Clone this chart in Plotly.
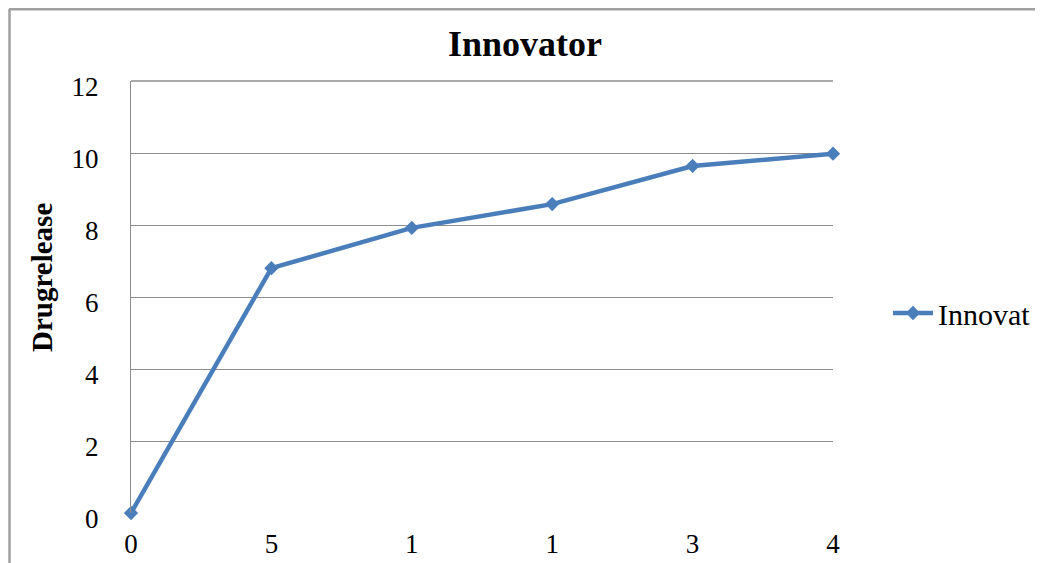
import plotly.graph_objects as go

x_labels = ["0", "5", "1", "1", "3", "4"]
x_pos = [0, 1, 2, 3, 4, 5]
drug_release = [0, 6.8, 7.92, 8.58, 9.64, 9.98]
y_ticks = [0, 2, 4, 6, 8, 10, 12]

blue = "#4A7EBB"
grid = "#8C8C8C"
serif = "Liberation Serif, Times New Roman, serif"

# page body has an 8px margin; work in reference pixels and shift
O = 8
W, H = 1043 - O, 563 - O
L, R, T, B = 131 - O, 833 - O, 81 - O, 513 - O
pw, ph = R - L, B - T

def px_x(p):
    return (p - O - L) / pw

def px_y(p):
    return (B - (p - O)) / ph

fig = go.Figure()
fig.add_trace(go.Scatter(
    x=x_pos, y=drug_release, mode="lines+markers", name="Innovat",
    line=dict(color=blue, width=4.5),
    marker=dict(symbol="diamond", size=11, color=blue),
    cliponaxis=False,
))

fig.update_layout(
    width=W, height=H,
    margin=dict(l=L, r=W - R, t=T, b=H - B, pad=0, autoexpand=False),
    paper_bgcolor="white", plot_bgcolor="white",
    font=dict(family=serif, size=27, color="black"),
    showlegend=True,
    legend=dict(x=px_x(888), y=px_y(313), xanchor="left", yanchor="middle",
                font=dict(family=serif, size=30, color="black"),
                bgcolor="rgba(0,0,0,0)", itemwidth=40),
    xaxis=dict(range=[0, 5], tickvals=x_pos, ticktext=x_labels,
               showgrid=False, zeroline=False, showline=False,
               ticks="", ticklabelstandoff=12, automargin=False,
               tickfont=dict(family=serif, size=27, color="black")),
    yaxis=dict(range=[0, 12], tickvals=y_ticks,
               showgrid=True, gridcolor=grid, gridwidth=1.3,
               zeroline=False, showline=True, linecolor=grid, linewidth=1.3,
               ticks="", ticklabelstandoff=26, ticklabelshift=6,
               automargin=False,
               tickfont=dict(family=serif, size=27, color="black")),
    shapes=[
        dict(type="line", xref="paper", yref="paper",
             x0=px_x(9), x1=px_x(1100), y0=px_y(9.3), y1=px_y(9.3),
             line=dict(color="#A0A0A0", width=2.5)),
        dict(type="line", xref="paper", yref="paper",
             x0=px_x(9.5), x1=px_x(9.5), y0=px_y(9), y1=px_y(600),
             line=dict(color="#A0A0A0", width=2.5)),
        dict(type="line", xref="paper", yref="paper",
             x0=0, x1=1, y0=1, y1=1,
             line=dict(color=grid, width=1.3)),
    ],
    annotations=[
        dict(text="<b>Innovator</b>", xref="paper", yref="paper",
             x=px_x(525), y=px_y(44), xanchor="center", yanchor="middle",
             showarrow=False, font=dict(family=serif, size=36, color="black")),
        dict(text="<b>Drugrelease</b>", xref="paper", yref="paper",
             x=px_x(42), y=px_y(277), xanchor="center", yanchor="middle",
             textangle=-90, showarrow=False,
             font=dict(family=serif, size=29, color="black")),
    ],
)

fig.write_html("out.html")
